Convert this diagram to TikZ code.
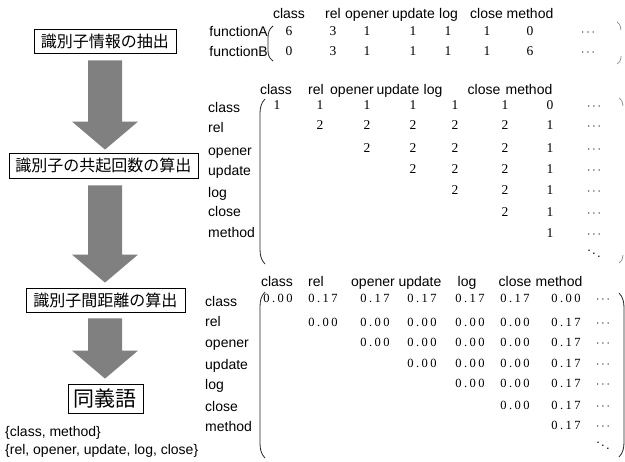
\documentclass[tikz,border=0pt]{standalone}
\usepackage{fontspec}
\setmainfont{Liberation Sans}
\newfontfamily\jfont{Noto Sans CJK JP}
\newfontfamily\nfont{Liberation Serif}
\newfontfamily\dfont[LetterSpace=20]{Liberation Serif}
\usetikzlibrary{calc}
\definecolor{arrowgray}{RGB}{128,128,128}
\begin{document}
\begin{tikzpicture}[x=1pt,y=-1pt,
  lbl/.style={font=\fontsize{14}{14}\selectfont, anchor=base, inner sep=0pt},
  rowlbl/.style={lbl, anchor=base west},
  num/.style={font=\nfont\fontsize{13.5}{13.5}\selectfont, anchor=base, inner sep=0pt},
  dec/.style={font=\dfont\fontsize{12.5}{12.5}\selectfont, anchor=base, inner sep=0pt},
  dotsnode/.style={font=\fontsize{13}{13}\selectfont, anchor=base, inner sep=0pt},
  stepbox/.style={draw, line width=0.8pt, font=\jfont\fontsize{16}{16}\selectfont, inner sep=0pt, minimum height=24pt},
  paren/.style={line width=0.8pt, draw=black!85},
  faintparen/.style={line width=0.7pt, draw=black!45},
  bigarrow/.style={to path={($(\tikztostart)+(-17,0)$) -- ($(\tikztotarget)+(-17,-28)$) -- ($(\tikztotarget)+(-33,-28)$) -- (\tikztotarget) -- ($(\tikztotarget)+(33,-28)$) -- ($(\tikztotarget)+(17,-28)$) -- ($(\tikztostart)+(17,0)$) -- cycle}},
]
\useasboundingbox (0,0) rectangle (625,462);

% ---------- left flow ----------
\node[stepbox, minimum width=142pt] (b1) at (105,41) {識別子情報の抽出};
\node[stepbox, minimum width=189pt, minimum height=25pt] (b2) at (103.5,165.5) {識別子の共起回数の算出};
\node[stepbox, minimum width=159pt] (b3) at (105.5,300) {識別子間距離の算出};
\node[stepbox, minimum width=75pt, minimum height=29pt, font=\jfont\fontsize{21}{21}\selectfont] (b4) at (105.5,398.5) {同義語};

\coordinate (a1s) at ([yshift=-7pt]b1.south);
\path (b2.north -| b1.south) ++(0,-3) coordinate (a1t);
\coordinate (a2s) at ([yshift=-7pt]b2.south -| b1.south);
\path (b3.north -| b1.south) ++(0,-5) coordinate (a2t);
\coordinate (a3s) at ([yshift=-6pt]b3.south -| b1.south);
\path (b4.north -| b1.south) ++(0,-5) coordinate (a3t);
\fill[arrowgray, bigarrow] (a1s) to (a1t);
\fill[arrowgray, bigarrow] (a2s) to (a2t);
\fill[arrowgray, bigarrow] (a3s) to (a3t);

\node[rowlbl] (syn1) at (5,437) {\{class, method\}};
\node[rowlbl] (syn2) at (5,455) {\{rel, opener, update, log, close\}};

% ---------- matrix 1 ----------
\foreach \t/\x [count=\k] in {class/289,rel/333,opener/367,update/413.5,log/448.5,close/486.5,method/530}
  \node[lbl] (ha-\k) at (\x,19) {\t};
\node[lbl, anchor=base east] (fa) at (268,37) {functionA};
\node[lbl, anchor=base east] (fb) at (268,57) {functionB};
\foreach \v/\x [count=\k] in {6/289,3/333,1/367,1/413,1/448,1/487,0/530}
  \node[num] (ma-1-\k) at (\x,36) {\v};
\foreach \v/\x [count=\k] in {0/289,3/333,1/367,1/413,1/448,1/487,6/530}
  \node[num] (ma-2-\k) at (\x,56) {\v};
\node[dotsnode] (mad-1) at (588,36) {$\cdots$};
\node[dotsnode] (mad-2) at (588,56) {$\cdots$};
\draw[paren] (273,26) .. controls (269,29) and (268,33) .. (268,38) -- (268,50) .. controls (268,55) and (269,58) .. (273,61);
\draw[faintparen] (617,22) .. controls (620,24) and (621,27) .. (621,30);
\draw[faintparen] (621,56) .. controls (621,60) and (620,62) .. (617,64);

% ---------- matrix 2 ----------
\foreach \t/\x [count=\k] in {class/276,rel/316,opener/352,update/398,log/433,close/484,method/529}
  \node[lbl] (hb-\k) at (\x,95) {\t};
\foreach \t/\y [count=\k] in {class/113,rel/133,opener/156,update/176,log/198,close/217,method/238}
  \node[rowlbl] (rb-\k) at (208,\y) {\t};
\def\mtwox{{277,320,367,413,455,505,550}}
\def\mtwoy{{109.5,130,153,174,195,217,238}}
\foreach \i in {1,...,7}{
  \pgfmathsetmacro\yy{\mtwoy[\i-1]}
  \foreach \j in {\i,...,7}{
    \pgfmathsetmacro\xx{\mtwox[\j-1]}
    \pgfmathtruncatemacro\val{\i==1 ? (\j==7 ? 0 : 1) : (\j==7 ? 1 : 2)}
    \node[num] (mb-\i-\j) at (\xx,\yy) {\val};
  }
  \node[dotsnode] (mbd-\i) at (594,\yy) {$\cdots$};
}
\node[inner sep=0pt, font=\fontsize{13}{13}\selectfont] (mbdd) at (594,251) {$\ddots$};
\draw[paren] (265,99) .. controls (261,103) and (260,108) .. (260,114) -- (260,249) .. controls (260,255) and (261,260) .. (265,264);
\draw[faintparen] (619,98) .. controls (622,100) and (623,103) .. (623,106);
\draw[faintparen] (623,255) .. controls (623,258) and (622,261) .. (619,263);

% ---------- matrix 3 ----------
\foreach \t/\x [count=\k] in {class/277,rel/316,opener/373,update/420,log/467,close/515,method/559}
  \node[lbl] (hc-\k) at (\x,287) {\t};
\foreach \t/\y [count=\k] in {class/307,rel/327,opener/348,update/370,log/390,close/412,method/432}
  \node[rowlbl] (rc-\k) at (205,\y) {\t};
\def\mthrx{{278,323,375,422,470,515,566}}
\def\mthry{{302.5,327,347,368,388,410,430}}
\foreach \i in {1,...,7}{
  \pgfmathsetmacro\yy{\mthry[\i-1]}
  \foreach \j in {\i,...,7}{
    \pgfmathsetmacro\xx{\mthrx[\j-1]}
    \pgfmathtruncatemacro\isseventeen{\i==1 ? ((\j>1 && \j<7) ? 1 : 0) : (\j==7 ? 1 : 0)}
    \node[dec] (mc-\i-\j) at (\xx,\yy) {\ifnum\isseventeen=1 0.17\else 0.00\fi};
  }
  \node[dotsnode] (mcd-\i) at (603,\yy) {$\cdots$};
}
\node[inner sep=0pt, font=\fontsize{13}{13}\selectfont] (mcdd) at (603,443) {$\ddots$};
\draw[paren] (265,292) .. controls (261,296) and (260,301) .. (260,307) -- (260,443) .. controls (260,449) and (261,454) .. (265,458);
\draw[paren] (619,293) .. controls (623,297) and (624,302) .. (624,308) -- (624,442) .. controls (624,448) and (623,453) .. (619,457);
\end{tikzpicture}
\end{document}
